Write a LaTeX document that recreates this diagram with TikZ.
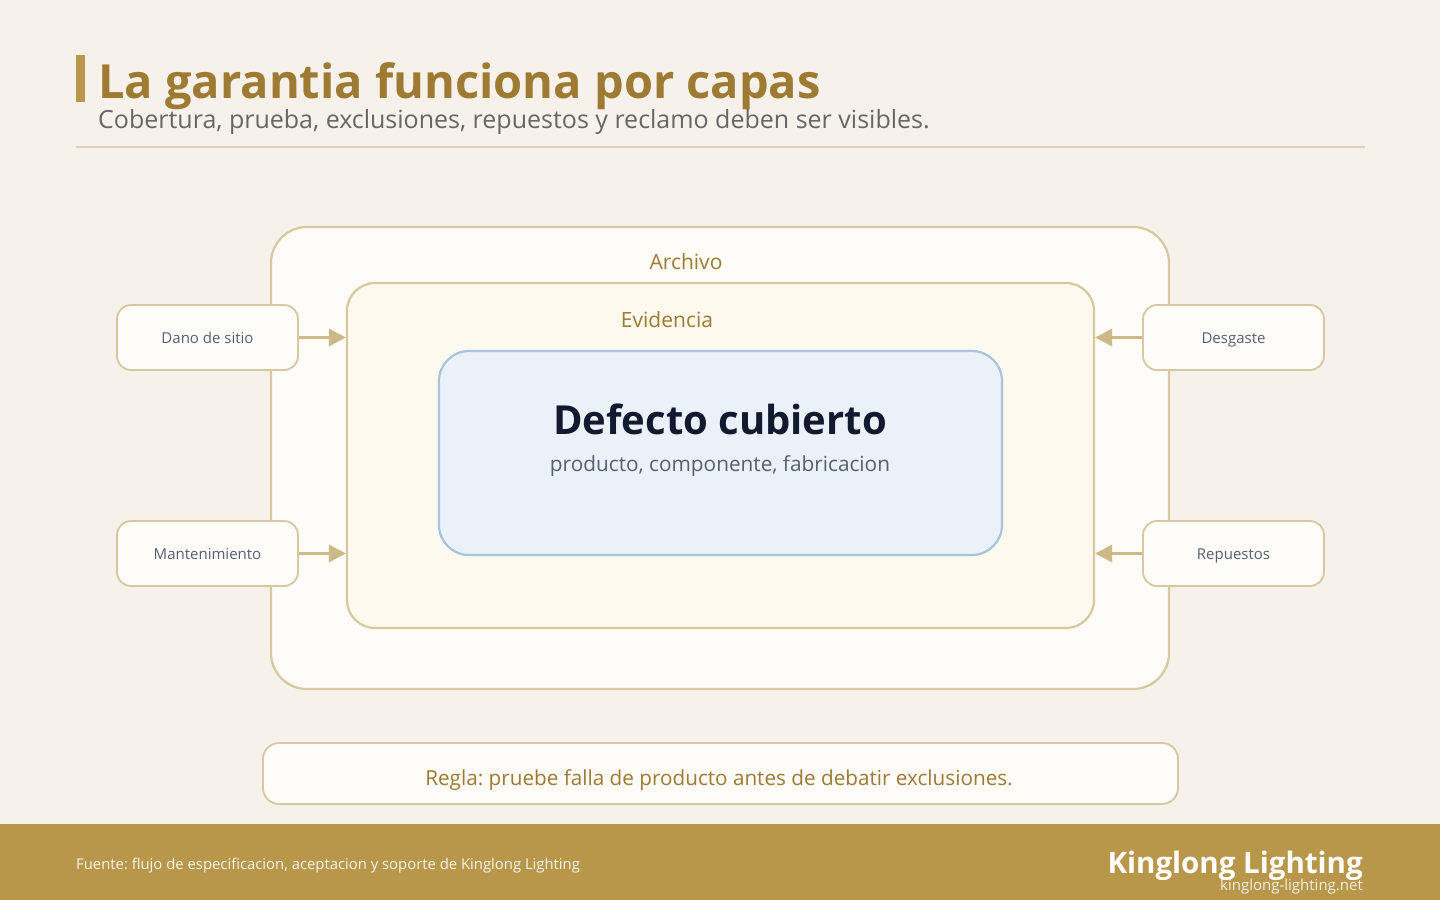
\documentclass[tikz,border=0pt]{standalone}
\usepackage{fontspec}
\setmainfont{Open Sans}
\frenchspacing
\usetikzlibrary{arrows.meta,positioning}

\definecolor{bgpaper}{HTML}{F6F2EB}
\definecolor{gold}{HTML}{B8964A}
\definecolor{golddark}{HTML}{9E7A32}
\definecolor{sand}{HTML}{D8C8A0}
\definecolor{sandarrow}{HTML}{CDB986}
\definecolor{ivory}{HTML}{FEFCF8}
\definecolor{cream}{HTML}{FEF9EF}
\definecolor{skyfill}{HTML}{EAF2F9}
\definecolor{skyline}{HTML}{A8C4DD}
\definecolor{ink}{HTML}{111A2E}
\definecolor{slate}{HTML}{556070}
\definecolor{greytext}{HTML}{666666}
\definecolor{rulecol}{HTML}{DDD0B8}

\tikzset{
  layer/.style={draw=sand, line width=2.2pt, rounded corners=#1, inner sep=0pt},
  sidebox/.style={draw=sand, fill=ivory, line width=1.8pt, rounded corners=14pt,
    minimum width=181pt, minimum height=65pt, text height=12pt, text depth=0pt,
    font=\fontsize{15}{18}\selectfont, text=slate},
  feed/.style={-{Triangle[length=17pt,width=17pt]}, draw=sandarrow, line width=3pt},
  layerlabel/.style={font=\fontsize{21}{25}\selectfont, text=golddark}
}

\begin{document}
\begin{tikzpicture}[x=1pt, y=-1pt]

    % Page
    \fill[bgpaper] (0,0) rectangle (1440,900);
    \useasboundingbox (0,0) rectangle (1440,900);

    % Header
    \fill[gold] (76,55) rectangle (85,102);
    \node[anchor=base west, inner sep=0pt, text=golddark,
          font=\fontsize{47}{52}\selectfont\bfseries] (title) at (98,98)
          {La garantia funciona por capas};
    \node[anchor=base west, inner sep=0pt, text=greytext,
          font=\fontsize{25}{29}\selectfont] (subtitle) at (98,128)
          {Cobertura, prueba, exclusiones, repuestos y reclamo deben ser visibles.};
    \draw[rulecol, line width=1.6pt] (76,147) -- (1365,147);

    % Nested layers
    \node[layer=36pt, fill=ivory, minimum width=898pt, minimum height=462pt] (archivo) at (720,458) {};
    \node[layerlabel] (archivolbl) at (686,262) {Archivo};

    \node[layer=28pt, fill=cream, minimum width=747pt, minimum height=345pt] (evidencia) at (720.5,455.5) {};
    \node[layerlabel] (evidencialbl) at (667,320) {Evidencia};

    \node[layer=30pt, draw=skyline, fill=skyfill, minimum width=563pt, minimum height=204pt] (defecto) at (720.5,453) {};
    \node[font=\fontsize{40}{45}\selectfont\bfseries, text=ink] (defectolbl) at (720,419) {Defecto cubierto};
    \node[font=\fontsize{20.8}{25}\selectfont, text=slate] (defectosub) at (720,466) {producto, componente, fabricacion};

    % Exclusions around the layers
    \node[sidebox] (dano) at (207.5,337.5) {Dano de sitio};
    \node[sidebox] (mant) at (207.5,553.5) {Mantenimiento};
    \node[sidebox] (desg) at (1233.5,337.5) {Desgaste};
    \node[sidebox] (repu) at (1233.5,553.5) {Repuestos};

    \draw[feed] (dano.east) -- (evidencia.west |- dano.east);
    \draw[feed] (mant.east) -- (evidencia.west |- mant.east);
    \draw[feed] (desg.west) -- (evidencia.east |- desg.west);
    \draw[feed] (repu.west) -- (evidencia.east |- repu.west);

    % Rule
    \node[draw=sand, fill=ivory, line width=1.8pt, rounded corners=16pt,
          minimum width=915pt, minimum height=61pt] (regla) at (720.5,773.5) {};
    \node[anchor=base, inner sep=0pt, text=golddark,
          font=\fontsize{20.7}{25}\selectfont] (reglalbl) at (719,785)
          {Regla: pruebe falla de producto antes de debatir exclusiones.};

    % Footer
    \fill[gold] (0,824) rectangle (1440,900);
    \node[anchor=base west, inner sep=0pt, text=white!90!gold,
          font=\fontsize{14.85}{18}\selectfont] (fuente) at (76,869)
          {Fuente: flujo de especificacion, aceptacion y soporte de Kinglong Lighting};
    \node[anchor=base east, inner sep=0pt, text=white,
          font=\fontsize{29.5}{34}\selectfont\bfseries] (marca) at (1363,873)
          {Kinglong Lighting};
    \node[anchor=base east, inner sep=0pt, text=white!85!gold,
          font=\fontsize{15}{18}\selectfont] (web) at (1363,890)
          {kinglong-lighting.net};

\end{tikzpicture}
\end{document}
